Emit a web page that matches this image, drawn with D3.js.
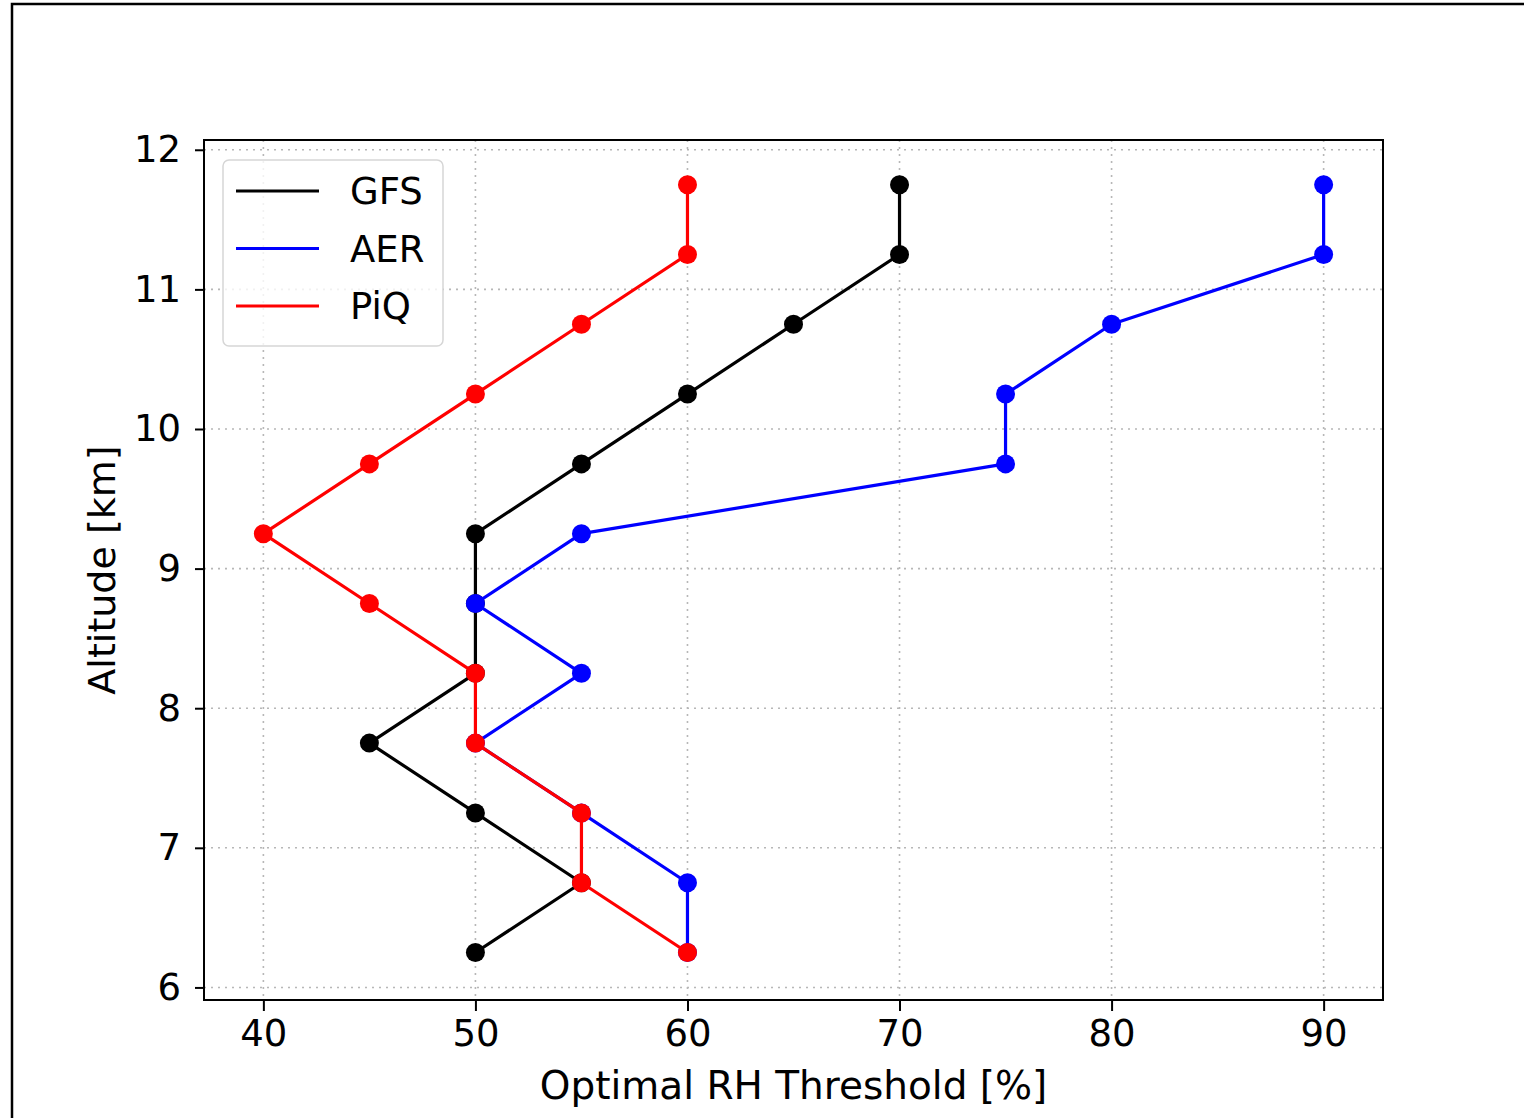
<!DOCTYPE html>
<html>
<head>
<meta charset="utf-8">
<script src="https://cdn.jsdelivr.net/npm/d3@7"></script>
<style>
  html, body { margin: 0; padding: 0; background: #fff; }
  svg { display: block; }
  text { font-family: "DejaVu Sans", sans-serif; fill: #000; }
</style>
</head>
<body>
<script>
// ---- data ----
const altitudes = [6.25, 6.75, 7.25, 7.75, 8.25, 8.75, 9.25, 9.75, 10.25, 10.75, 11.25, 11.75];
const gfsValues = [50, 55, 50, 45, 50, 50, 50, 55, 60, 65, 70, 70];
const aerValues = [60, 60, 55, 50, 55, 50, 55, 75, 75, 80, 90, 90];
const piqValues = [60, 55, 55, 50, 50, 45, 40, 45, 50, 55, 60, 60];
const seriesNames = ["GFS", "AER", "PiQ"];
const seriesColors = ["#000000", "#0000ff", "#ff0000"];
const xTicks = [40, 50, 60, 70, 80, 90];
const yTicks = [6, 7, 8, 9, 10, 11, 12];
const xLabel = "Optimal RH Threshold [%]";
const yLabel = "Altitude [km]";

const W = 1524, H = 1118;
const plot = { left: 204, right: 1383, top: 140, bottom: 1000 };
const fontSize = 37;
const labelSize = 39;

const svg = d3.select("body").append("svg").attr("width", W).attr("height", H);

// outer frame
svg.append("rect").attr("x", 12).attr("y", 4).attr("width", W + 20).attr("height", H + 20)
  .attr("fill", "none").attr("stroke", "#000").attr("stroke-width", 2.5);

const x = d3.scaleLinear().domain([37.2, 92.8]).range([plot.left, plot.right]);
const y = d3.scaleLinear().domain([5.91, 12.07]).range([plot.bottom, plot.top]);

const series = [gfsValues, aerValues, piqValues].map((vals, i) => ({
  name: seriesNames[i], color: seriesColors[i],
  pts: vals.map((v, j) => [v, altitudes[j]])
}));

// grid (light dotted)
const gGrid = svg.append("g").attr("stroke", "#b0b0b0").attr("stroke-width", 1.6)
  .attr("stroke-dasharray", "2,5").attr("opacity", 0.9);
xTicks.forEach(t => gGrid.append("line").attr("x1", x(t)).attr("x2", x(t))
  .attr("y1", plot.top).attr("y2", plot.bottom));
yTicks.forEach(t => gGrid.append("line").attr("y1", y(t)).attr("y2", y(t))
  .attr("x1", plot.left).attr("x2", plot.right));

const line = d3.line().x(d => x(d[0])).y(d => y(d[1]));

const gData = svg.append("g");
series.forEach(s => {
  gData.append("path").datum(s.pts).attr("d", line)
    .attr("fill", "none").attr("stroke", s.color).attr("stroke-width", 3.2)
    .attr("stroke-linejoin", "round");
  gData.selectAll(null).data(s.pts).enter().append("circle")
    .attr("cx", d => x(d[0])).attr("cy", d => y(d[1])).attr("r", 9.5)
    .attr("fill", s.color);
});

// axes
const xAxis = d3.axisBottom(x).tickValues(xTicks).tickSize(11).tickPadding(9).tickFormat(d3.format("d"));
const yAxis = d3.axisLeft(y).tickValues(yTicks).tickSize(9).tickPadding(14).tickFormat(d3.format("d"));

const gx = svg.append("g").attr("transform", `translate(0,${plot.bottom})`).call(xAxis);
const gy = svg.append("g").attr("transform", `translate(${plot.left},0)`).call(yAxis);
[gx, gy].forEach(g => {
  g.select(".domain").remove();
  g.selectAll(".tick line").attr("stroke", "#000").attr("stroke-width", 2);
  g.selectAll(".tick text").attr("font-size", fontSize).attr("font-family", "DejaVu Sans").attr("fill", "#000");
});

// plot frame
svg.append("rect").attr("x", plot.left).attr("y", plot.top)
  .attr("width", plot.right - plot.left).attr("height", plot.bottom - plot.top)
  .attr("fill", "none").attr("stroke", "#000").attr("stroke-width", 2);

// axis labels
svg.append("text").attr("x", (plot.left + plot.right) / 2).attr("y", 1099)
  .attr("text-anchor", "middle").attr("font-size", labelSize).text(xLabel);
svg.append("text").attr("transform", `translate(115,${(plot.top + plot.bottom) / 2}) rotate(-90)`)
  .attr("text-anchor", "middle").attr("font-size", 38).text(yLabel);

// legend
const leg = svg.append("g");
leg.append("rect").attr("x", 223).attr("y", 160).attr("width", 220).attr("height", 186)
  .attr("rx", 6).attr("fill", "#fff").attr("fill-opacity", 0.8)
  .attr("stroke", "#d6d6d6").attr("stroke-width", 1.5);
series.forEach((s, i) => {
  const cy = 191 + i * 57.5;
  leg.append("line").attr("x1", 236).attr("x2", 319).attr("y1", cy).attr("y2", cy)
    .attr("stroke", s.color).attr("stroke-width", 3.2);
  leg.append("text").attr("x", 350).attr("y", cy + 13).attr("font-size", fontSize).text(s.name);
});
</script>
</body>
</html>
